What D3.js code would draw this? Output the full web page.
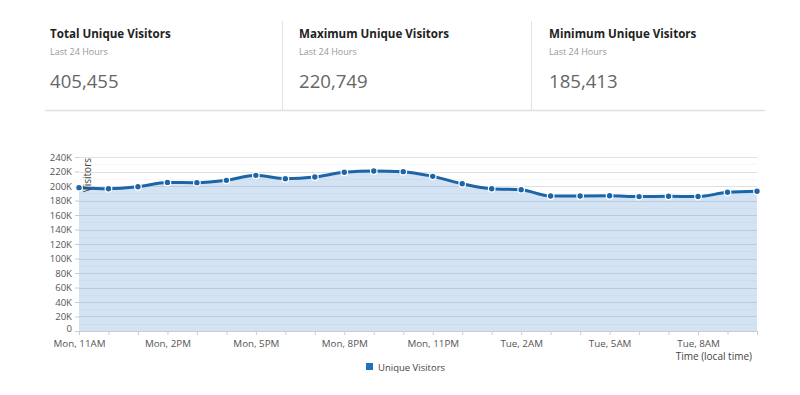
<!DOCTYPE html>
<html>
<head>
<meta charset="utf-8">
<script src="https://cdn.jsdelivr.net/npm/d3@7"></script>
<style>
  html, body { margin: 0; padding: 0; background: #fff; }
  svg { display: block; font-family: "Open Sans", sans-serif; }
</style>
</head>
<body>
<svg id="chart" width="800" height="395"></svg>
<script>
// ---- data ----
const statTitles = ["Total Unique Visitors", "Maximum Unique Visitors", "Minimum Unique Visitors"];
const statSubtitles = ["Last 24 Hours", "Last 24 Hours", "Last 24 Hours"];
const statValues = [405455, 220749, 185413];

const categories = [
  "Mon, 11AM", "Mon, 12PM", "Mon, 1PM", "Mon, 2PM", "Mon, 3PM", "Mon, 4PM",
  "Mon, 5PM", "Mon, 6PM", "Mon, 7PM", "Mon, 8PM", "Mon, 9PM", "Mon, 10PM",
  "Mon, 11PM", "Tue, 12AM", "Tue, 1AM", "Tue, 2AM", "Tue, 3AM", "Tue, 4AM",
  "Tue, 5AM", "Tue, 6AM", "Tue, 7AM", "Tue, 8AM", "Tue, 9AM", "Tue, 10AM"
];
const visitors = [
  197700, 196300, 199000, 205000, 204600, 207800,
  214700, 210000, 212400, 218900, 220749, 219800,
  213300, 203200, 196300, 194900, 186200, 186300,
  186600, 185413, 185800, 185500, 191300, 192700
];
const xTickLabels = ["Mon, 11AM", "Mon, 2PM", "Mon, 5PM", "Mon, 8PM", "Mon, 11PM", "Tue, 2AM", "Tue, 5AM", "Tue, 8AM"];
const yTicks = [0, 20000, 40000, 60000, 80000, 100000, 120000, 140000, 160000, 180000, 200000, 220000, 240000];
const seriesName = "Unique Visitors";
const yTitle = "Visitors";
const xTitle = "Time (local time)";

// ---- layout ----
const svg = d3.select("#chart");
const L = 79, R = 757, T = 157, B = 331;

// header panels
const panelX = [50, 299, 549];
const hdr = svg.append("g");
panelX.forEach((px, i) => {
  hdr.append("text").attr("x", px).attr("y", 38)
    .attr("font-size", 11.6).attr("font-weight", 700).attr("fill", "#222")
    .text(statTitles[i]);
  hdr.append("text").attr("x", px).attr("y", 55)
    .attr("font-size", 9).attr("fill", "#999")
    .text(statSubtitles[i]);
  hdr.append("text").attr("x", px).attr("y", 88)
    .attr("font-size", 18.6).attr("fill", "#666")
    .text(d3.format(",")(statValues[i]));
});
[282, 531].forEach(x => {
  hdr.append("line").attr("x1", x + 0.5).attr("x2", x + 0.5).attr("y1", 21).attr("y2", 110)
    .attr("stroke", "#e2e2e2").attr("stroke-width", 1);
});
hdr.append("line").attr("x1", 45).attr("x2", 765).attr("y1", 110.5).attr("y2", 110.5)
  .attr("stroke", "#e0e0e0").attr("stroke-width", 1.5);

// scales
const x = d3.scalePoint().domain(categories).range([L, R]);
const y = d3.scaleLinear().domain([0, 240000]).range([B, T]);

// area
const area = d3.area()
  .x((d, i) => x(categories[i]))
  .y0(y(0))
  .y1(d => y(d))
  .curve(d3.curveMonotoneX);
svg.append("path").datum(visitors).attr("d", area).attr("fill", "#d4e3f3");

// minor gridlines (10K)
const g = svg.append("g");
d3.range(10000, 240000, 20000).forEach(v => {
  g.append("line").attr("x1", L).attr("x2", R).attr("y1", Math.round(y(v)) + 0.5).attr("y2", Math.round(y(v)) + 0.5)
    .attr("stroke", "rgba(120,140,170,0.07)").attr("stroke-width", 1);
});
// major gridlines
yTicks.filter(v => v > 0).forEach(v => {
  g.append("line").attr("x1", L).attr("x2", R).attr("y1", Math.round(y(v)) + 0.5).attr("y2", Math.round(y(v)) + 0.5)
    .attr("stroke", "rgba(110,130,160,0.24)").attr("stroke-width", 1.2);
});

// y axis
const yAxis = svg.append("g").attr("transform", `translate(${L},0)`)
  .call(d3.axisLeft(y).tickValues(yTicks).tickSize(4).tickPadding(3)
    .tickFormat(d => d === 0 ? "0" : (d / 1000) + "K"));
yAxis.select(".domain").remove();
yAxis.selectAll(".tick line").attr("stroke", "#ccc");
yAxis.selectAll("text").attr("font-size", 9.6).attr("fill", "#555").attr("font-family", "Open Sans, sans-serif");
yAxis.selectAll(".tick").filter(d => d === 0).select("text").attr("y", -2.5);

// x axis
const xAxis = svg.append("g").attr("transform", `translate(0,${B})`)
  .call(d3.axisBottom(x).tickSize(4).tickPadding(5)
    .tickFormat(d => xTickLabels.includes(d) ? d : ""));
xAxis.select(".domain").attr("stroke", "#ccc").attr("d", `M${L},0.5H${R}`);
xAxis.selectAll(".tick line").attr("stroke", "#ccc");
xAxis.selectAll("text").attr("font-size", 9.8).attr("fill", "#555").attr("font-family", "Open Sans, sans-serif");

// line
const line = d3.line()
  .x((d, i) => x(categories[i]))
  .y(d => y(d))
  .curve(d3.curveMonotoneX);
svg.append("path").datum(visitors).attr("d", line)
  .attr("fill", "none").attr("stroke", "#1c65a6").attr("stroke-width", 3);

// points
svg.append("g").selectAll("circle").data(visitors).join("circle")
  .attr("cx", (d, i) => x(categories[i]))
  .attr("cy", d => y(d))
  .attr("r", 3.3)
  .attr("fill", "#1c65a6")
  .attr("stroke", "#fff").attr("stroke-width", 1.2);

// axis titles
svg.append("text").attr("transform", `translate(91,158) rotate(-90)`)
  .attr("text-anchor", "end").attr("font-size", 10).attr("fill", "#444")
  .text(yTitle);
svg.append("text").attr("x", 752).attr("y", 360).attr("text-anchor", "end")
  .attr("font-size", 10).attr("fill", "#444").text(xTitle);

// legend
const lg = svg.append("g").attr("transform", "translate(366,363)");
lg.append("rect").attr("width", 7).attr("height", 7).attr("fill", "#1f72b8");
lg.append("text").attr("x", 12).attr("y", 7.5).attr("font-size", 9.5).attr("fill", "#444").text(seriesName);
</script>
</body>
</html>
